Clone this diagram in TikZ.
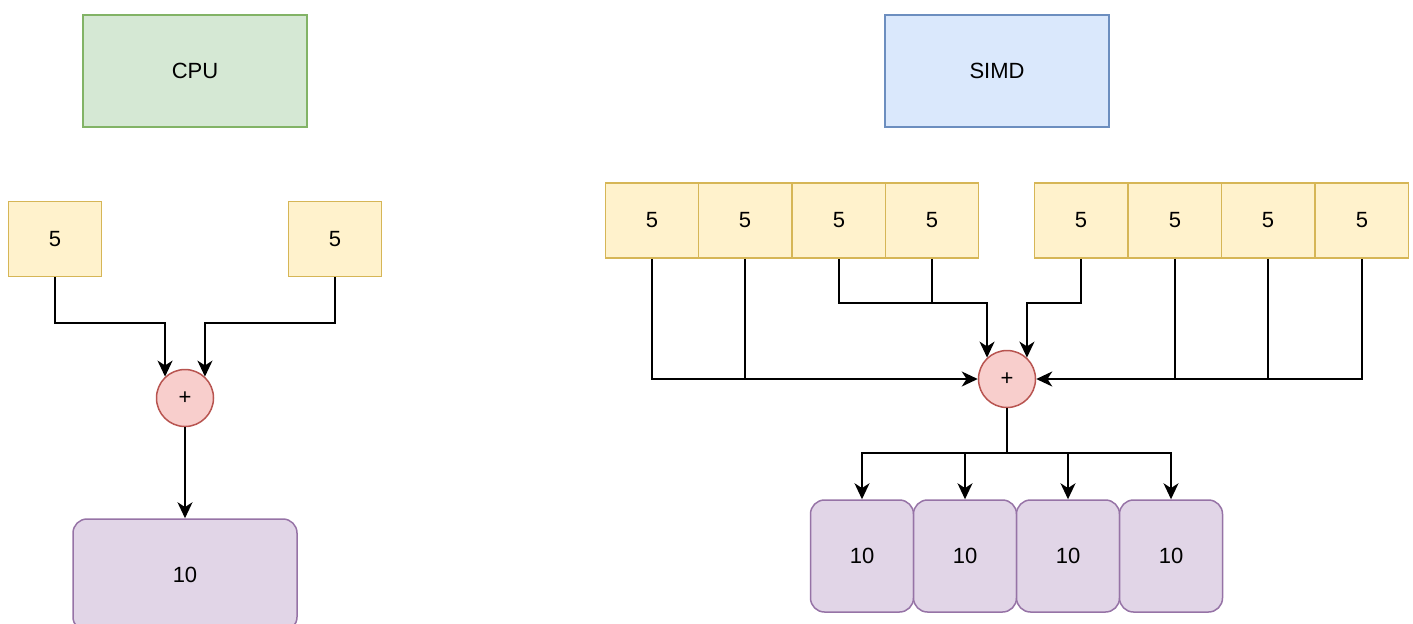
\documentclass[tikz,border=0pt]{standalone}
\usepackage{fontspec}
\setmainfont{Liberation Sans}
\usetikzlibrary{arrows.meta}

\begin{document}
\begin{tikzpicture}[x=0.5pt, y=-0.5pt, font=\fontsize{11}{13}\selectfont,
      line join=miter, >={Stealth[length=8pt,width=7.5pt,inset=2.4pt]},
      box/.style={draw, line width=0.75pt, inner sep=0pt},
      title/.style={box, minimum width=112pt, minimum height=56pt},
      val/.style={box, fill=valFill, draw=valLine, minimum width=46.7pt, minimum height=37.5pt},
      sum/.style={box, circle, fill=sumFill, draw=sumLine, minimum size=28.5pt},
      res/.style={box, rounded corners=7pt, fill=resFill, draw=resLine},
      flow/.style={->, line width=0.9pt},
      wire/.style={line width=0.9pt}]
    \definecolor{valFill}{HTML}{FFF2CC}
    \definecolor{valLine}{HTML}{D6B656}
    \definecolor{sumFill}{HTML}{F8CECC}
    \definecolor{sumLine}{HTML}{B85450}
    \definecolor{resFill}{HTML}{E1D5E7}
    \definecolor{resLine}{HTML}{9673A6}
    \definecolor{cpuFill}{HTML}{D5E8D4}
    \definecolor{cpuLine}{HTML}{82B366}
    \definecolor{simdFill}{HTML}{DAE8FC}
    \definecolor{simdLine}{HTML}{6C8EBF}
    \useasboundingbox (0,0) rectangle (1413,623);
    % ==== scalar add ====
    \node[title, fill=cpuFill, draw=cpuLine] (cpu) at (195,71) {CPU};
    \node[val] (x) at (55,239) {5};
    \node[val] (y) at (335,239) {5};
    \node[sum] (add) at (185,398) {+};
    \node[res, minimum width=112pt, minimum height=56pt] (z) at (185,575) {10};
    % operands into the adder
    \coordinate (busS) at (0,323);
    \draw[flow] (x.south) -- (x.south |- busS) -| (add.133);
    \draw[flow] (y.south) -- (y.south |- busS) -| (add.47);
    \draw[flow] (add.south) -- (z.north);
    % ==== vector add ====
    \node[title, fill=simdFill, draw=simdLine] (simd) at (997,71) {SIMD};
    \foreach \n/\px in {a1/652,a2/745,a3/839,a4/932,b1/1081,b2/1175,b3/1268,b4/1362}
      \node[val] (\n) at (\px,220.5) {5};
    \node[sum] (vadd) at (1007,379) {+};
    \foreach \n/\px in {c1/862,c2/965,c3/1068,c4/1171}
      \node[res, minimum width=51.5pt, minimum height=56pt] (\n) at (\px,556) {10};
    % lanes into the adder
    \coordinate (busV) at (0,303);
    \coordinate (busO) at (0,453);
    \draw[flow] (a1.south) |- (vadd.west);
    \draw[wire] (a2.south) -- (a2.south |- vadd.west);
    \draw[flow] (a3.south) -- (a3.south |- busV) -| (vadd.133);
    \draw[wire] (a4.south) -- (a4.south |- busV);
    \draw[flow] (b1.south) -- (b1.south |- busV) -| (vadd.47);
    \draw[flow] (b4.south) |- (vadd.east);
    \draw[wire] (b2.south) -- (b2.south |- vadd.east);
    \draw[wire] (b3.south) -- (b3.south |- vadd.east);
    % fan out the results
    \foreach \n in {c1,c2,c3,c4}
      \draw[flow] (vadd.south) |- (\n.north |- busO) -- (\n.north);
  \end{tikzpicture}
\end{document}
